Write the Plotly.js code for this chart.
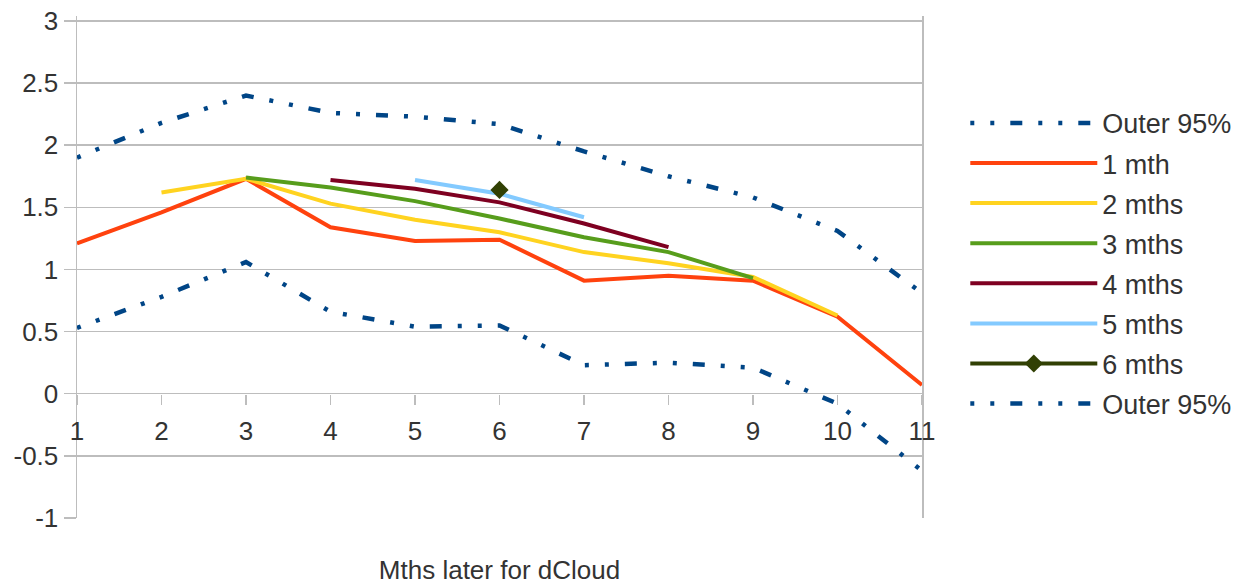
<!DOCTYPE html>
<html>
<head>
<meta charset="utf-8">
<script src="https://cdn.plot.ly/plotly-3.0.1.min.js"></script>
<style>html,body{margin:0;padding:0;background:#fff;}#chart{width:1248px;height:585px;}</style>
</head>
<body>
<div id="chart"></div>
<script>
var months = [1, 2, 3, 4, 5, 6, 7, 8, 9, 10, 11];
var outerUpper = [1.90, 2.18, 2.40, 2.26, 2.23, 2.17, 1.95, 1.75, 1.58, 1.31, 0.81];
var outerLower = [0.53, 0.78, 1.06, 0.66, 0.54, 0.55, 0.23, 0.25, 0.21, -0.08, -0.62];
var m1Months = [1, 2, 3, 4, 5, 6, 7, 8, 9, 10, 11];
var m1Values = [1.21, 1.46, 1.73, 1.34, 1.23, 1.24, 0.91, 0.95, 0.91, 0.62, 0.07];
var m2Months = [2, 3, 4, 5, 6, 7, 8, 9, 10];
var m2Values = [1.62, 1.73, 1.53, 1.40, 1.30, 1.14, 1.05, 0.94, 0.63];
var m3Months = [3, 4, 5, 6, 7, 8, 9];
var m3Values = [1.74, 1.66, 1.55, 1.41, 1.26, 1.14, 0.93];
var m4Months = [4, 5, 6, 7, 8];
var m4Values = [1.72, 1.65, 1.54, 1.37, 1.18];
var m5Months = [5, 6, 7];
var m5Values = [1.72, 1.61, 1.42];
var m6Months = [6];
var m6Values = [1.64];
var seriesNames = ["Outer 95%", "1 mth", "2 mths", "3 mths", "4 mths", "5 mths", "6 mths", "Outer 95%"];
var xTickVals = [1, 2, 3, 4, 5, 6, 7, 8, 9, 10, 11];
var xTickText = ["1", "2", "3", "4", "5", "6", "7", "8", "9", "10", "11"];
var yTickVals = [-1, -0.5, 0, 0.5, 1, 1.5, 2, 2.5, 3];
var yTickText = ["-1", "-0.5", "0", "0.5", "1", "1.5", "2", "2.5", "3"];
var xTitle = "Mths later for dCloud";

var dashPattern = "4px,16px,4px,16px,12px,16px";
var lw = 4;
function tr(x, y, name, color, extra, grp) {
  var t = {x: x, y: y, name: name, type: "scatter", mode: "lines",
    line: {color: color, width: lw}, legendgroup: grp, hoverinfo: "x+y+name"};
  if (extra) for (var k in extra) t[k] = extra[k];
  return t;
}
var data = [
  tr(months, outerUpper, seriesNames[0], "#004586", {line: {color: "#004586", width: 4.5, dash: dashPattern}}, "g0"),
  tr(m1Months, m1Values, seriesNames[1], "#ff420e", null, "g1"),
  tr(m2Months, m2Values, seriesNames[2], "#ffd320", null, "g2"),
  tr(m3Months, m3Values, seriesNames[3], "#579d1c", null, "g3"),
  tr(m4Months, m4Values, seriesNames[4], "#7e0021", null, "g4"),
  tr(m5Months, m5Values, seriesNames[5], "#83caff", null, "g5"),
  tr(m6Months, m6Values, seriesNames[6], "#314004", {mode: "lines+markers", marker: {symbol: "diamond", size: 14, color: "#314004"}}, "g6"),
  tr(months, outerLower, seriesNames[7], "#004586", {line: {color: "#004586", width: 4.5, dash: dashPattern}}, "g7")
];
var gridCol = "#bdbdbd";
var textCol = "#333333";
var yMin = -1, yMax = 3.04;
var layout = {
  width: 1248, height: 585,
  paper_bgcolor: "#ffffff", plot_bgcolor: "#ffffff",
  margin: {l: 77, r: 325, t: 16, b: 67},
  font: {family: "Liberation Sans, Arial, sans-serif", size: 26, color: textCol},
  showlegend: true,
  legend: {x: 1.05, xanchor: "left", y: 0.835, yanchor: "top", itemwidth: 127,
    tracegroupgap: 2, traceorder: "grouped", font: {size: 27, color: textCol},
    bgcolor: "rgba(0,0,0,0)"},
  xaxis: {range: [1, 11], tickvals: xTickVals, ticktext: xTickText,
    anchor: "free", position: (0 - yMin) / (yMax - yMin), showgrid: false, zeroline: false, showline: false,
    ticks: "outside", ticklen: 10, tickwidth: 1.5, tickcolor: gridCol,
    ticklabelstandoff: 4,
    title: {text: xTitle, standoff: 118, font: {size: 26, color: textCol}}},
  yaxis: {range: [yMin, yMax], tickvals: yTickVals, ticktext: yTickText,
    showgrid: true, gridcolor: gridCol, gridwidth: 1.5, zeroline: false,
    showline: true, mirror: true, linecolor: gridCol, linewidth: 1.5,
    ticks: "outside", ticklen: 12, tickwidth: 1.5, tickcolor: gridCol,
    ticklabelstandoff: 0}
};
Plotly.newPlot("chart", data, layout, {displayModeBar: false, staticPlot: true});
</script>
</body>
</html>
